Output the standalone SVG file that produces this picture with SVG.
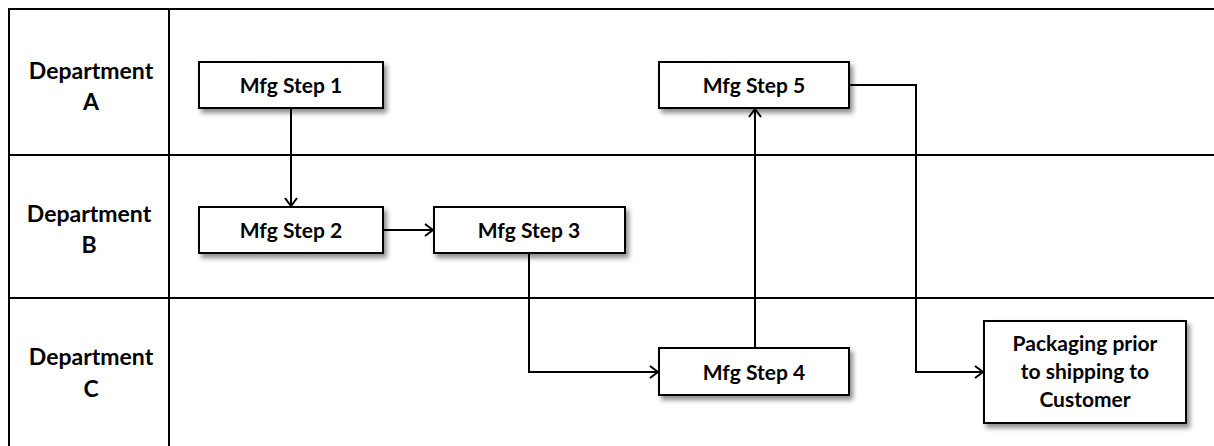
<svg xmlns="http://www.w3.org/2000/svg" width="1214" height="446" viewBox="0 0 1214 446">
<style>
.lane{stroke:#000;stroke-width:2;fill:none}
.box{fill:#fff;stroke:#000;stroke-width:2}
.t{font-family:Lato,"Open Sans","Liberation Sans",sans-serif;font-weight:bold;font-size:21px;fill:#000;text-anchor:middle}
.dept{font-family:Lato,"Open Sans","Liberation Sans",sans-serif;font-weight:bold;font-size:23px;fill:#000;text-anchor:middle}
.c{stroke:#000;stroke-width:2;fill:none}
</style>
<defs>
<filter id="sh" x="-10%" y="-20%" width="130%" height="150%">
<feDropShadow dx="3" dy="4" stdDeviation="2.5" flood-color="#000" flood-opacity="0.45"/>
</filter>
<marker id="ar" markerWidth="14" markerHeight="14" refX="11" refY="7" orient="auto" markerUnits="userSpaceOnUse">
<path d="M3,1 L11,7 L3,13" fill="none" stroke="#000" stroke-width="2"/>
</marker>
</defs>
<g id="lanes">
<path class="lane" d="M9,447 V9 H1215"/>
<path class="lane" d="M169,9 V447"/>
<path class="lane" d="M9,155 H1215"/>
<path class="lane" d="M9,298 H1215"/>
<text class="dept" x="91" y="79">Department</text>
<text class="dept" x="91" y="110">A</text>
<text class="dept" x="89" y="222">Department</text>
<text class="dept" x="89" y="253">B</text>
<text class="dept" x="91" y="365">Department</text>
<text class="dept" x="91" y="397">C</text>
</g>
<g id="connectors">
<path class="c" d="M291,108 V206" marker-end="url(#ar)"/>
<path class="c" d="M383,230 H433" marker-end="url(#ar)"/>
<path class="c" d="M529,253 V372 H658" marker-end="url(#ar)"/>
<path class="c" d="M755,348 V109" marker-end="url(#ar)"/>
<path class="c" d="M849,85 H916 V372 H983" marker-end="url(#ar)"/>
</g>
<g id="step1"><rect class="box" x="199" y="62" width="184" height="46" filter="url(#sh)"/><text class="t" x="291" y="93">Mfg Step 1</text></g>
<g id="step2"><rect class="box" x="199" y="207" width="184" height="46" filter="url(#sh)"/><text class="t" x="291" y="238">Mfg Step 2</text></g>
<g id="step3"><rect class="box" x="434" y="207" width="191" height="46" filter="url(#sh)"/><text class="t" x="529" y="238">Mfg Step 3</text></g>
<g id="step5"><rect class="box" x="659" y="62" width="190" height="46" filter="url(#sh)"/><text class="t" x="754" y="93">Mfg Step 5</text></g>
<g id="step4"><rect class="box" x="659" y="348" width="190" height="47" filter="url(#sh)"/><text class="t" x="754" y="380">Mfg Step 4</text></g>
<g id="packaging"><rect class="box" x="984" y="321" width="202" height="102" filter="url(#sh)"/>
<text class="t" x="1085" y="351">Packaging prior</text>
<text class="t" x="1085" y="379">to shipping to</text>
<text class="t" x="1085" y="407">Customer</text></g>
</svg>
